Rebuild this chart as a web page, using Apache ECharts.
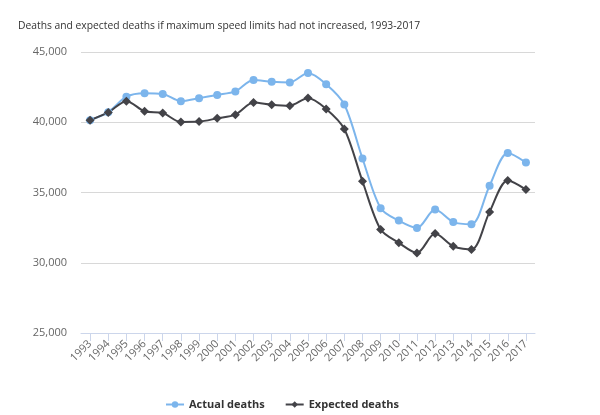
<!DOCTYPE html>
<html><head><meta charset="utf-8">
<script src="https://cdn.jsdelivr.net/npm/echarts@6/dist/echarts.min.js"></script>
<style>html,body{margin:0;padding:0;background:#fff}#c{width:600px;height:415px}</style>
</head><body><div id="c"></div>
<script>
var years = ['1993','1994','1995','1996','1997','1998','1999','2000','2001','2002','2003','2004','2005','2006','2007','2008','2009','2010','2011','2012','2013','2014','2015','2016','2017'];
var actualDeaths = [40150,40716,41817,42065,42013,41501,41717,41945,42196,43005,42884,42836,43510,42708,41259,37423,33883,32999,32479,33782,32893,32744,35485,37806,37133];
var expectedDeaths = [40150,40700,41500,40780,40660,40020,40045,40280,40540,41400,41250,41180,41730,40950,39520,35800,32360,31420,30700,32080,31170,30940,33620,35850,35210];
var yTicks = {min:25000, max:45000, interval:5000};

var chart = echarts.init(document.getElementById('c'), null, {renderer:'canvas'});
var fontFam = '"Open Sans", "Noto Sans", sans-serif';
chart.setOption({
  animation:false,
  backgroundColor:'#fff',
  title:{text:'Deaths and expected deaths if maximum speed limits had not increased, 1993-2017',
    left:13, top:16, textStyle:{fontSize:10.3, fontWeight:'normal', color:'#333', fontFamily:fontFam}},
  grid:{left:81, right:65, top:52, bottom:82},
  legend:{bottom:0, left:160, itemGap:20, itemWidth:18, itemHeight:8,
    textStyle:{fontSize:11, fontWeight:'bold', color:'#333', fontFamily:fontFam},
    data:['Actual deaths','Expected deaths']},
  xAxis:{type:'category', data:years, boundaryGap:true,
    axisLine:{lineStyle:{color:'#ccd6eb'}},
    axisTick:{show:true, alignWithLabel:true, length:8, lineStyle:{color:'#ccd6eb'}},
    axisLabel:{rotate:45, interval:0, color:'#666', fontSize:11, fontFamily:fontFam, margin:9}},
  yAxis:{type:'value', min:yTicks.min, max:yTicks.max, interval:yTicks.interval,
    axisLine:{show:false}, axisTick:{show:false},
    splitLine:{lineStyle:{color:'#d8d8d8'}},
    axisLabel:{color:'#666', fontSize:11, fontFamily:fontFam, margin:14,
      formatter:function(v){return v.toLocaleString('en-US');}}},
  series:[
    {name:'Actual deaths', type:'line', data:actualDeaths, smooth:0.3,
      symbol:'circle', symbolSize:8, color:'#7cb5ec',
      lineStyle:{width:2, color:'#7cb5ec'}, itemStyle:{color:'#7cb5ec'}},
    {name:'Expected deaths', type:'line', data:expectedDeaths, smooth:0.3,
      symbol:'diamond', symbolSize:9, color:'#434348',
      lineStyle:{width:2, color:'#434348'}, itemStyle:{color:'#434348'}}
  ]
});
</script></body></html>
